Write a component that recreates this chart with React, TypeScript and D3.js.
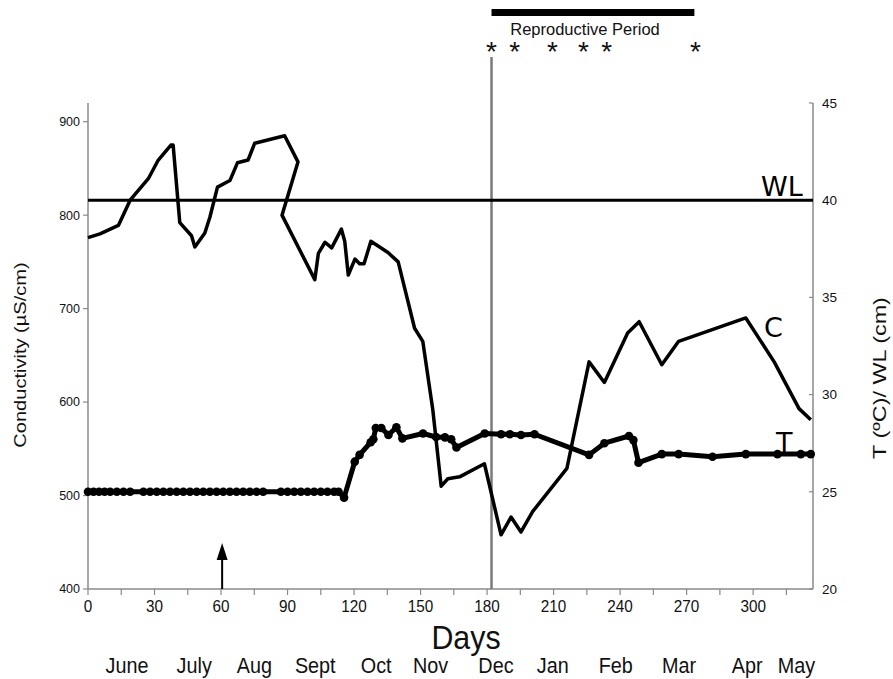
import React from "react";
import * as d3 from "d3";

// ---- data ----
const conductivity: [number, number][] = [
  [0, 776], [5.4, 780], [13.7, 789], [19, 816], [27.2, 839], [31.7, 859], [37.4, 875], [38.4, 875],
  [41.4, 792], [46.7, 778], [48.2, 766], [52.7, 781], [55, 798], [58.4, 830], [64, 837], [67.4, 856],
  [72.2, 859], [75.2, 877], [88.7, 885], [94.7, 857], [87.5, 800], [102.3, 731], [103.9, 759],
  [106.9, 771], [109.9, 765], [114.3, 785], [115.8, 772], [117.4, 736], [120.4, 753], [122.5, 748],
  [124.5, 748], [127.6, 772], [135.3, 760], [139.9, 750], [147.3, 679], [151, 665], [155.5, 592],
  [159.3, 510], [162.3, 518], [167.6, 520], [178.8, 534], [186.3, 458], [190.8, 477], [195.3, 461],
  [200.6, 483], [216, 529], [226, 643], [232.9, 621], [243.4, 674], [248.6, 686], [258.8, 640],
  [266.4, 665], [296.7, 690], [309.5, 643], [320.7, 593], [326, 581],
];

const temperature: [number, number][] = [
  [0, 25], [2.5, 25], [5, 25], [7.5, 25], [10, 25], [13, 25], [16, 25], [19, 25], [25, 25], [28, 25],
  [31, 25], [34, 25], [37, 25], [40, 25], [43, 25], [46, 25], [49, 25], [52, 25], [55, 25], [58, 25],
  [61, 25], [64, 25], [67, 25], [70, 25], [73, 25], [76, 25], [79, 25], [87, 25], [90, 25], [93, 25],
  [96, 25], [99, 25], [102, 25], [105, 25], [108, 25], [111, 25], [113, 25],
  [115.5, 24.7], [120.3, 26.55], [122.5, 26.9], [127.5, 27.55], [128.7, 27.7], [129.8, 28.28],
  [132.3, 28.28], [135.5, 27.92], [139.1, 28.32], [141.8, 27.75], [151.1, 28.0], [157, 27.82],
  [161, 27.8], [163.8, 27.7], [166.2, 27.28], [178.9, 28.0], [186.3, 27.96], [190.3, 27.96],
  [195.3, 27.92], [201.4, 27.96], [226, 26.9], [232.9, 27.5], [244, 27.87], [246, 27.66],
  [248.3, 26.5], [258.8, 26.94], [266.4, 26.94], [281.7, 26.8], [296.7, 26.94], [311, 26.94],
  [321.5, 26.94], [326, 26.94],
];

const waterLevel = 40;
const dayTicks = [0, 30, 60, 90, 120, 150, 180, 210, 240, 270, 300];
const minorDayTicks = d3.range(0, 316, 15);
const condTicks = [400, 500, 600, 700, 800, 900];
const tempTicks = [20, 25, 30, 35, 40, 45];
const months = ["June", "July", "Aug", "Sept", "Oct", "Nov", "Dec", "Jan", "Feb", "Mar", "Apr", "May"];
const monthDays = [17.6, 47.9, 75, 102.5, 130, 154.5, 184, 209.6, 238, 266.6, 297.3, 319.5];
const reproStart = 182;
const reproEnd = 273.5;
const spawnDays = [182, 192.5, 209.5, 223.5, 234, 274];
const arrowDay = 60.5;
const markerDay = 182;

export default function App() {
  const W = 893, H = 679;
  const x = d3.scaleLinear().domain([0, 327]).range([88, 813]);
  const yC = d3.scaleLinear().domain([400, 920]).range([589, 103]);
  const yT = d3.scaleLinear().domain([20, 45]).range([589, 103]);

  const lineC = d3.line<[number, number]>().x((d) => x(d[0])).y((d) => yC(d[1]));
  const lineT = d3.line<[number, number]>().x((d) => x(d[0])).y((d) => yT(d[1]));

  const axisColor = "#8a8a8a";
  const sans = "'Liberation Sans', Arial, sans-serif";
  const dv = "'DejaVu Sans', Verdana, sans-serif";

  const ax = x(arrowDay);
  return (
    <svg width={W} height={H} style={{ position: "absolute", left: 0, top: 0, background: "#fff" }}>
      <rect x={0} y={0} width={W} height={H} fill="#fff" />
      {/* axes */}
      <line x1={x(0)} x2={x(0)} y1={yC(920)} y2={yC(400)} stroke={axisColor} strokeWidth={1.5} />
      <line x1={x(327)} x2={x(327)} y1={yT(45)} y2={yT(20)} stroke={axisColor} strokeWidth={1.5} />
      <line x1={x(0)} x2={x(327)} y1={yC(400)} y2={yC(400)} stroke={axisColor} strokeWidth={1.5} />
      {condTicks.map((t) => (
        <g key={"c" + t}>
          <line x1={x(0) - 5} x2={x(0)} y1={yC(t)} y2={yC(t)} stroke={axisColor} strokeWidth={1.2} />
          <text x={x(0) - 8} y={yC(t)} dy="0.35em" textAnchor="end" fontFamily={sans} fontSize={12.5} fill="#111">{t}</text>
        </g>
      ))}
      {tempTicks.map((t) => (
        <g key={"t" + t}>
          <line x1={x(327) - 4} x2={x(327)} y1={yT(t)} y2={yT(t)} stroke={axisColor} strokeWidth={1.2} />
          <text x={x(327) + 9} y={yT(t)} dy="0.35em" textAnchor="start" fontFamily={sans} fontSize={13.5} fill="#111">{t}</text>
        </g>
      ))}
      {minorDayTicks.map((t) => (
        <line key={"m" + t} x1={x(t)} x2={x(t)} y1={589} y2={595} stroke={axisColor} strokeWidth={1.2} />
      ))}
      {dayTicks.map((t) => (
        <text key={"d" + t} transform={`translate(${x(t)},612) scale(0.9,1)`} textAnchor="middle" fontFamily={sans} fontSize={17} fill="#111">{t}</text>
      ))}
      <text transform="translate(466,649) scale(0.92,1)" textAnchor="middle" fontFamily={sans} fontSize={33} fill="#111">Days</text>
      {months.map((m, i) => (
        <text key={m} transform={`translate(${x(monthDays[i])},673) scale(0.9,1)`} textAnchor="middle" fontFamily={sans} fontSize={22} fill="#111">{m}</text>
      ))}
      <text transform={`translate(26,355) rotate(-90) scale(1.18,1)`} textAnchor="middle" fontFamily={sans} fontSize={17} fill="#111">Conductivity (µS/cm)</text>
      <text transform={`translate(886,378) rotate(-90) scale(1.3,1)`} textAnchor="middle" fontFamily={sans} fontSize={18} fill="#111">T (ºC)/ WL (cm)</text>

      {/* December marker */}
      <line x1={x(markerDay)} x2={x(markerDay)} y1={57} y2={589} stroke="#7a7a7a" strokeWidth={2.5} />
      {/* reproductive period */}
      <rect x={x(reproStart)} y={9} width={x(reproEnd) - x(reproStart)} height={7} fill="#000" />
      <text x={585} y={35} textAnchor="middle" fontFamily={sans} fontSize={16.5} fill="#111">Reproductive Period</text>
      {spawnDays.map((d) => (
        <text key={"s" + d} x={x(d)} y={61} textAnchor="middle" fontFamily={sans} fontSize={28} fill="#111">*</text>
      ))}
      {/* arrow */}
      <line x1={ax} x2={ax} y1={589} y2={556} stroke="#000" strokeWidth={2} />
      <path d={`M${ax - 5.5},${560} L${ax},${543} L${ax + 5.5},${560} Z`} fill="#000" />

      {/* water level */}
      <line x1={x(0)} x2={x(327)} y1={yT(waterLevel)} y2={yT(waterLevel)} stroke="#000" strokeWidth={3} />
      {/* conductivity */}
      <path d={lineC(conductivity) || ""} fill="none" stroke="#000" strokeWidth={3.5} strokeLinejoin="round" />
      {/* temperature */}
      <path d={lineT(temperature) || ""} fill="none" stroke="#000" strokeWidth={5} strokeLinejoin="round" />
      {temperature.map((d, i) => (
        <circle key={"p" + i} cx={x(d[0])} cy={yT(d[1])} r={4.3} fill="#000" />
      ))}

      <text x={761} y={196} fontFamily={dv} fontSize={27} fill="#000">WL</text>
      <text x={764} y={337} fontFamily={dv} fontSize={27} fill="#000">C</text>
      <text x={776} y={452} fontFamily={dv} fontSize={27} fill="#000">T</text>
    </svg>
  );
}
